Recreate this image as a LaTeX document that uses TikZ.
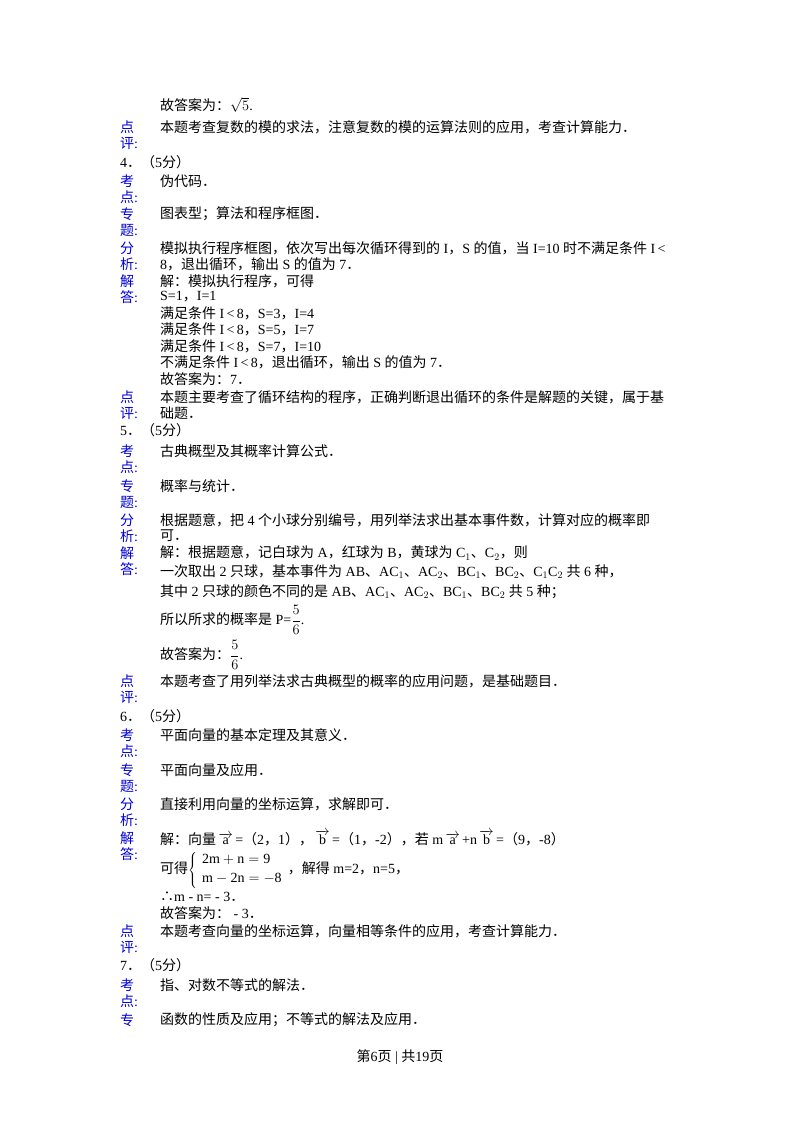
\documentclass[tikz,border=0pt]{standalone}
\usepackage{fontspec}
\setmainfont{Liberation Serif}
\newfontfamily\cjk{Noto Sans CJK SC}
\XeTeXinterchartokenstate=1
\newXeTeXintercharclass\CJKcls
\makeatletter
\count@="3000
\loop\XeTeXcharclass\count@=\CJKcls\ifnum\count@<"9FFF\advance\count@ by 1\repeat
\count@="FF00
\loop\XeTeXcharclass\count@=\CJKcls\ifnum\count@<"FFEF\advance\count@ by 1\repeat
\XeTeXcharclass"2234=\CJKcls
\makeatother
\XeTeXinterchartoks 0 \CJKcls = {\cjk}
\XeTeXinterchartoks 4095 \CJKcls = {\cjk}
\XeTeXinterchartoks \CJKcls 0 = {\rmfamily}
\XeTeXinterchartoks \CJKcls 4095 = {\rmfamily}
\tikzset{txt/.style={anchor=west,inner sep=0pt,font=\fontsize{14}{16}\selectfont},
lab/.style={txt,text=blue!85!black}}
\newcommand\Tx[3]{\node[txt] at (#1,#2) {#3};}
\newcommand\Lb[3]{\node[lab] at (120,#1) {#2}; \node[lab] at (120,#1+16) {#3};}
\newcommand\va[1]{\,$\overrightarrow{\mathrm{#1}}$\,}
\begin{document}
\begin{tikzpicture}[x=1pt,y=-1pt]
\useasboundingbox (0,0) rectangle (800,1132);
\Tx{160}{105}{故答案为：$\sqrt{5}$.}
\Lb{127}{点}{评:}
\Tx{160}{127}{本题考查复数的模的求法，注意复数的模的运算法则的应用，考查计算能力．}
\Tx{120}{162}{4．（5分）}
\Lb{181}{考}{点:}\Tx{160}{181}{伪代码．}
\Lb{214}{专}{题:}\Tx{160}{214}{图表型；算法和程序框图．}
\Lb{248}{分}{析:}\Tx{160}{248}{模拟执行程序框图，依次写出每次循环得到的 I，S 的值，当 I=10 时不满足条件 I\,<}
\Tx{160}{264}{8，退出循环，输出 S 的值为 7．}
\Lb{281}{解}{答:}\Tx{160}{281}{解：模拟执行程序，可得}
\Tx{160}{297}{S=1，I=1}
\Tx{160}{313}{满足条件 I\,<\,8，S=3，I=4}
\Tx{160}{329}{满足条件 I\,<\,8，S=5，I=7}
\Tx{160}{346}{满足条件 I\,<\,8，S=7，I=10}
\Tx{160}{362}{不满足条件 I\,<\,8，退出循环，输出 S 的值为 7．}
\Tx{160}{379}{故答案为：7．}
\Lb{397}{点}{评:}\Tx{160}{397}{本题主要考查了循环结构的程序，正确判断退出循环的条件是解题的关键，属于基}
\Tx{160}{413}{础题．}
\Tx{120}{430}{5．（5分）}
\Lb{451}{考}{点:}\Tx{160}{451}{古典概型及其概率计算公式．}
\Lb{486}{专}{题:}\Tx{160}{486}{概率与统计．}
\Lb{520}{分}{析:}\Tx{160}{520}{根据题意，把 4 个小球分别编号，用列举法求出基本事件数，计算对应的概率即}
\Tx{160}{536}{可．}
\Lb{553}{解}{答:}\Tx{160}{553}{解：根据题意，记白球为 A，红球为 B，黄球为 C$_1$、C$_2$，则}
\Tx{160}{572}{一次取出 2 只球，基本事件为 AB、AC$_1$、AC$_2$、BC$_1$、BC$_2$、C$_1$C$_2$ 共 6 种，}
\Tx{160}{592}{其中 2 只球的颜色不同的是 AB、AC$_1$、AC$_2$、BC$_1$、BC$_2$ 共 5 种；}
\Tx{160}{620}{所以所求的概率是 P=$\displaystyle\frac{5}{6}$.}
\Tx{160}{655}{故答案为：$\displaystyle\frac{5}{6}$.}
\Lb{681}{点}{评:}\Tx{160}{681}{本题考查了用列举法求古典概型的概率的应用问题，是基础题目．}
\Tx{120}{716}{6．（5分）}
\Lb{735}{考}{点:}\Tx{160}{735}{平面向量的基本定理及其意义．}
\Lb{770}{专}{题:}\Tx{160}{770}{平面向量及应用．}
\Lb{804}{分}{析:}\Tx{160}{804}{直接利用向量的坐标运算，求解即可．}
\Lb{838}{解}{答:}\Tx{160}{838}{解：向量\va{a}=（2，1），\va{b}=（1，-2），若 m\va{a}+n\va{b}=（9，-8）}
\Tx{160}{870}{可得$\left\{\begin{array}{l}\mathrm{2m+n=9}\\[3pt] \mathrm{m-2n=-8}\end{array}\right.$，解得 m=2，n=5，}
\Tx{160}{897}{∴m - n= - 3．}
\Tx{160}{913}{故答案为： - 3．}
\Lb{931}{点}{评:}\Tx{160}{931}{本题考查向量的坐标运算，向量相等条件的应用，考查计算能力．}
\Tx{120}{965}{7．（5分）}
\Lb{985}{考}{点:}\Tx{160}{985}{指、对数不等式的解法．}
\node[lab] at (120,1020) {专};\Tx{160}{1020}{函数的性质及应用；不等式的解法及应用．}
\node[txt,anchor=center] at (400,1057) {第6页 | 共19页};
\end{tikzpicture}
\end{document}
